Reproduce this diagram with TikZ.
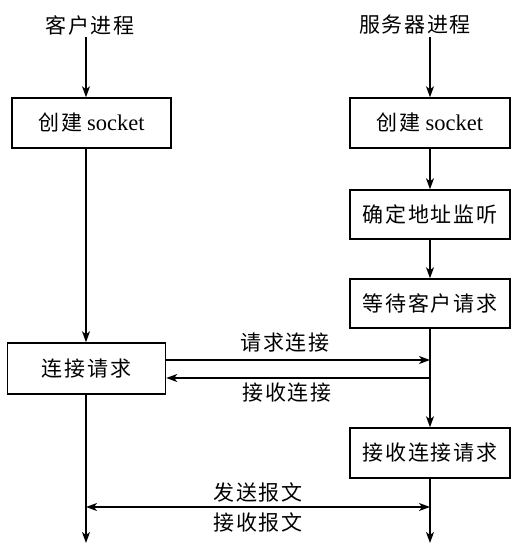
\documentclass[tikz,border=0pt]{standalone}
\usepackage{fontspec}
\setmainfont{Liberation Serif}
\newfontfamily\cjk[LetterSpace=8]{Noto Sans CJK SC}
\usetikzlibrary{arrows.meta}
\begin{document}
\begin{tikzpicture}[x=1pt,y=1pt,
  every node/.style={font=\fontsize{21pt}{24pt}\selectfont\cjk, inner sep=0pt},
  box/.style={draw, line width=1.5pt, minimum height=50pt},
  arr/.style={line width=1.3pt, -{Stealth[length=11pt,width=8pt,inset=3pt]}},
  darr/.style={line width=1.3pt, {Stealth[length=11pt,width=8pt,inset=3pt]}-{Stealth[length=11pt,width=8pt,inset=3pt]}}]
\useasboundingbox (0,0) rectangle (522,-556);
% titles
\node (t1) at (90,-25) {客户进程};
\node (t2) at (415,-25) {服务器进程};
% client boxes
\node[box, minimum width=159pt] (c1) at (91.5,-123) {创建\hspace{5pt}{\rmfamily\fontsize{22.5pt}{24pt}\selectfont socket}};
\node[box, minimum width=158pt, minimum height=51pt] (c2) at (86.5,-368.5) {连接请求};
% server boxes
\node[box, minimum width=160pt] (s1) at (430,-123) {创建\hspace{5pt}{\rmfamily\fontsize{22.5pt}{24pt}\selectfont socket}};
\node[box, minimum width=160pt, minimum height=49pt] (s2) at (430,-214.5) {确定地址监听};
\node[box, minimum width=160pt, minimum height=49pt] (s3) at (430,-303.5) {等待客户请求};
\node[box, minimum width=160pt] (s4) at (430,-453) {接收连接请求};
% column coordinates
\coordinate (lt) at (86,-37);
\coordinate (rt) at (430,-37);
\coordinate (lb) at (86,-543);
\coordinate (rb) at (430,-543);
\coordinate (dl) at (86,-507);
\coordinate (dr) at (430,-507);
% client column
\draw[arr] (lt) -- (lt |- c1.north);
\draw[arr] (lt |- c1.south) -- (lt |- c2.north);
\draw[arr] (lt |- c2.south) -- (lb);
% server column
\draw[arr] (rt) -- (s1.north);
\draw[arr] (s1.south) -- (s2.north);
\draw[arr] (s2.south) -- (s3.north);
\draw[arr] (s3.south) -- (s4.north);
\draw[arr] (s4.south) -- (rb);
% connection
\coordinate (reqL) at ([yshift=8.5pt]c2.east);
\coordinate (accL) at ([yshift=-9.5pt]c2.east);
\draw[arr] (reqL) -- (reqL -| s3.south);
\draw[arr] (accL -| s3.south) -- (accL);
\node (lreq) at (285,-343) {请求连接};
\node (lacc) at (287,-393) {接收连接};
% messages
\draw[darr] (dl) -- (dr);
\node (lsend) at (258,-492) {发送报文};
\node (lrecv) at (258,-522) {接收报文};
\end{tikzpicture}
\end{document}
